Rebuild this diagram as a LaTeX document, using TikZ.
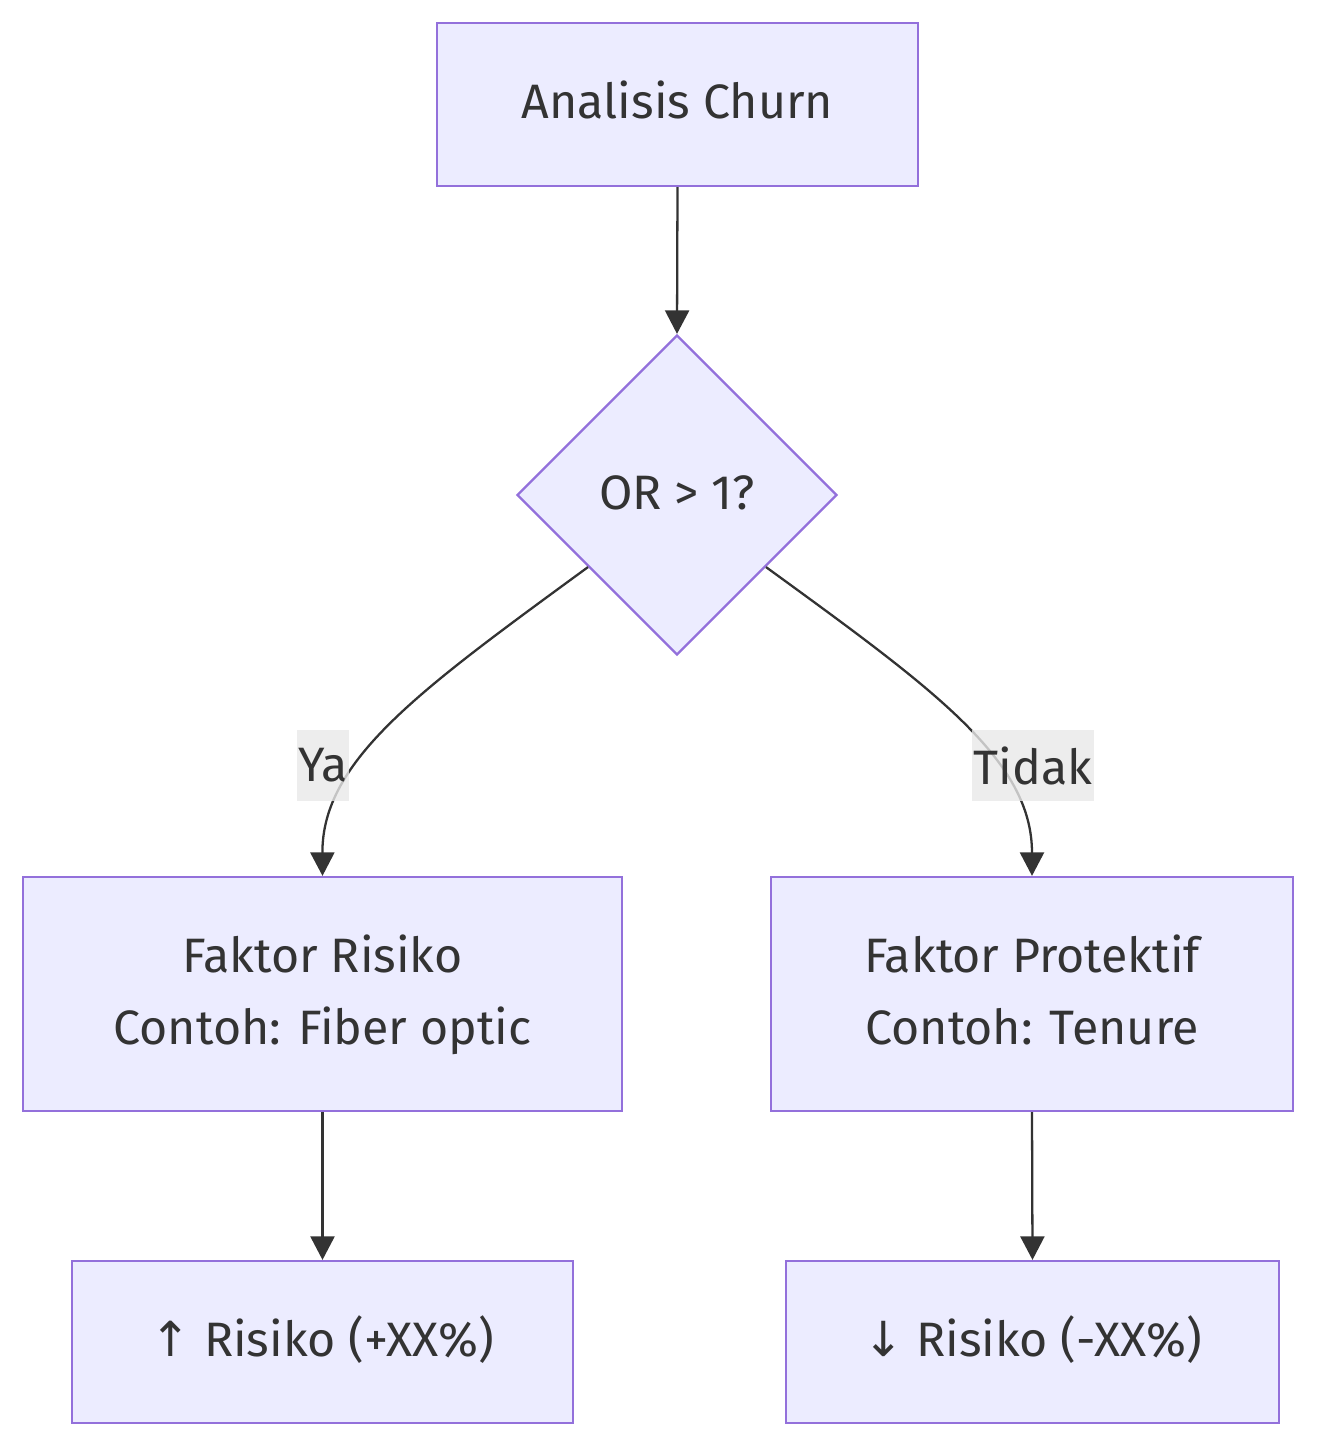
\documentclass[tikz,border=0pt]{standalone}
\usepackage{fontspec}
\setmainfont{Fira Sans}
\newfontfamily\arrowfont{DejaVu Sans}
\usetikzlibrary{shapes.geometric,arrows.meta}
\definecolor{nodefill}{HTML}{ECECFF}
\definecolor{nodeline}{HTML}{9370DB}
\definecolor{edgeline}{HTML}{333333}
\definecolor{labelfill}{HTML}{E8E8E8}

\begin{document}
\begin{tikzpicture}[x=0.02cm, y=-0.02cm,
        box/.style={draw=nodeline, fill=nodefill, line width=1.3pt, text=edgeline,
            align=center, inner sep=0pt, font=\fontsize{27.5}{41}\selectfont},
        decision/.style={box, diamond, aspect=1, minimum width=6.4cm, minimum height=6.4cm},
        flow/.style={draw=edgeline, line width=1.3pt, -{Triangle[length=0.47cm, width=0.48cm]}},
        edgelabel/.style={fill=labelfill, fill opacity=0.8, text opacity=1, text=edgeline,
            inner ysep=0pt, inner xsep=1pt, minimum height=1.42cm, font=\fontsize{27.5}{41}\selectfont}]
        \useasboundingbox (0,0) rectangle (1317,1447);
        % nodes
        \node[box, minimum width=9.62cm, minimum height=3.26cm] (start) at (677.5,104.5) {Analisis Churn\strut};
        \node[decision] (check) at (677,495) {OR > 1?\strut};
        \node[box, minimum width=11.98cm, minimum height=4.68cm] (risk) at (322.5,994) {Faktor Risiko\strut\\Contoh: Fiber optic\strut};
        \node[box, minimum width=10.44cm, minimum height=4.68cm] (protect) at (1032,994) {Faktor Protektif\strut\\Contoh: Tenure\strut};
        \node[box, minimum width=10.02cm, minimum height=3.24cm] (up) at (322.5,1342) {{\arrowfont ↑} Risiko (+XX\%)\strut};
        \node[box, minimum width=9.86cm, minimum height=3.24cm] (down) at (1032.5,1342) {{\arrowfont ↓} Risiko (-XX\%)\strut};
        % edges
        \draw[flow] (start.south) -- (check.north);
        \draw[flow] (check.219) .. controls (420,690) and (322,760) .. (risk.north);
        \draw[flow] (check.321) .. controls (935,690) and (1032,760) .. (protect.north);
        \draw[flow] (risk.south) -- (up.north);
        \draw[flow] (protect.south) -- (down.north);
        \node[edgelabel] (ya) at (323,765.5) {Ya};
        \node[edgelabel] (tidak) at (1033,765.5) {Tidak};
    \end{tikzpicture}
\end{document}
